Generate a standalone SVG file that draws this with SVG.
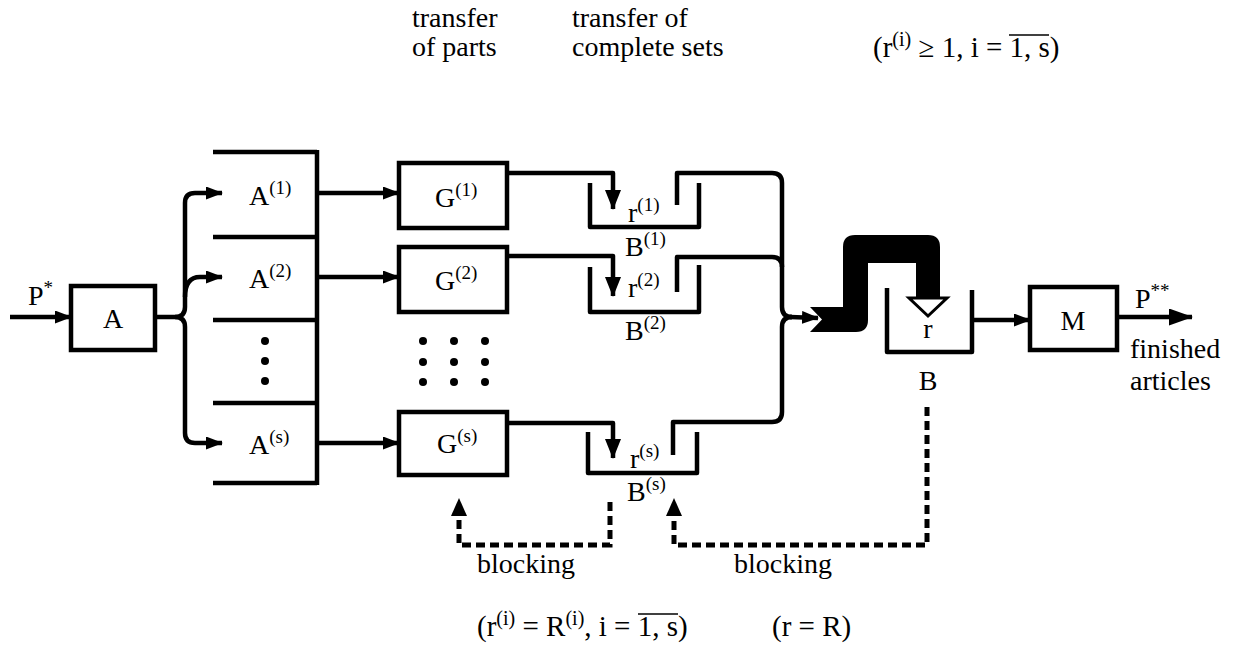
<svg xmlns="http://www.w3.org/2000/svg" width="1238" height="652" viewBox="0 0 1238 652" font-family="'Liberation Serif', 'Times New Roman', Tinos, 'DejaVu Serif', serif">
<style>
  text { font-family: 'Liberation Serif', 'Times New Roman', Tinos, 'DejaVu Serif', serif; font-size: 28px; fill: #000; }
  .sup { font-size: 19px; }
  .f29 { font-size: 29px; }
  .f29 .sup { font-size: 20px; }
  .box { fill: none; stroke: #000; stroke-width: 4.5; }
  .ln { fill: none; stroke: #000; stroke-width: 4.5; stroke-linejoin: round; }
  .dash { fill: none; stroke: #000; stroke-width: 5; stroke-dasharray: 9 5; }
  .ovl { stroke: #000; stroke-width: 1.6; }
</style>
<defs>
  <marker id="ah" markerWidth="17" markerHeight="13" refX="16" refY="6.5" orient="auto" markerUnits="userSpaceOnUse">
    <path d="M0,0 L17,6.5 L0,13 Z" fill="#000"/>
  </marker>
  <marker id="ahd" markerWidth="20" markerHeight="16" refX="19" refY="8" orient="auto" markerUnits="userSpaceOnUse">
    <path d="M0,0 L20,8 L0,16 Z" fill="#000"/>
  </marker>
  <marker id="ahb" markerWidth="24" markerHeight="17" refX="23" refY="8.5" orient="auto" markerUnits="userSpaceOnUse">
    <path d="M0,0 L24,8.5 L0,17 Z" fill="#000"/>
  </marker>
</defs>

<g id="annotations">
  <text x="412" y="27">transfer</text>
  <text x="412" y="56">of parts</text>
  <text x="572" y="27">transfer of</text>
  <text x="572" y="56">complete sets</text>
  <text class="f29" x="873" y="57">(r<tspan class="sup" dy="-11">(i)</tspan><tspan dy="11"> ≥ 1, i = 1, s)</tspan></text>
  <line class="ovl" x1="1009" y1="35" x2="1049" y2="35"/>
  <text x="477" y="573">blocking</text>
  <text x="734" y="573">blocking</text>
  <text class="f29" x="477" y="636">(r<tspan class="sup" dy="-11">(i)</tspan><tspan dy="11"> = R</tspan><tspan class="sup" dy="-11">(i)</tspan><tspan dy="11">, i = 1, s)</tspan></text>
  <line class="ovl" x1="638" y1="614" x2="678" y2="614"/>
  <text class="f29" x="772" y="636">(r = R)</text>
</g>

<g id="connectors">
  <line class="ln" x1="10" y1="317" x2="71" y2="317" marker-end="url(#ah)"/>
  <path class="ln" d="M155,317 H175 Q185,317 185,307 V203 Q185,193 195,193 H222" marker-end="url(#ah)"/>
  <path class="ln" d="M185,297 Q185,277 200,277 H222" marker-end="url(#ah)"/>
  <path class="ln" d="M175,317 Q185,317 185,327 V433 Q185,443 195,443 H222" marker-end="url(#ah)"/>
  <line class="ln" x1="317" y1="193" x2="399" y2="193" marker-end="url(#ah)"/>
  <line class="ln" x1="317" y1="277" x2="399" y2="277" marker-end="url(#ah)"/>
  <line class="ln" x1="317" y1="443" x2="399" y2="443" marker-end="url(#ah)"/>
  <path class="ln" d="M507,173 H613 V209" marker-end="url(#ahd)"/>
  <path class="ln" d="M507,256 H613 V296" marker-end="url(#ahd)"/>
  <path class="ln" d="M507,423 H613 V458" marker-end="url(#ahd)"/>
  <path class="ln" d="M677,205 V173 H772 Q782,173 782,183 V307 Q782,317 792,317"/>
  <path class="ln" d="M677,292 V257 H772 Q782,257 782,267"/>
  <path class="ln" d="M673,455 V422 H772 Q782,422 782,412 V327 Q782,317 792,317"/>
  <line class="ln" x1="790" y1="317" x2="818" y2="318" marker-end="url(#ah)"/>
  <path d="M810,307 L843,307 L843,247 Q843,235 855,235 L928,235 Q940,235 940,247 L940,298 L916,298 L916,263 L868,263 L868,320 Q868,332 856,332 L810,332 L822,319.5 Z" fill="#000"/>
  <path d="M909,298 L947,298 L928,316 Z" fill="#fff" stroke="#000" stroke-width="3"/>
  <line class="ln" x1="972" y1="320" x2="1030" y2="320" marker-end="url(#ah)"/>
  <line class="ln" x1="1117" y1="317" x2="1192" y2="317" marker-end="url(#ahb)"/>
  <path class="dash" d="M610,502 V545 H459 V514"/>
  <path d="M451,516 L467,516 L459,498 Z" fill="#000"/>
  <path class="dash" d="M927,407 V545 H674 V514"/>
  <path d="M666,516 L682,516 L674,498 Z" fill="#000"/>
</g>

<g id="node-A">
  <rect class="box" x="71" y="286" width="84" height="64"/>
  <text x="113" y="328" text-anchor="middle">A</text>
  <text x="28" y="305">P<tspan class="sup" dy="-11">*</tspan></text>
</g>

<g id="node-Astack">
  <path class="ln" d="M213,152 H317 M213,237 H317 M213,320 H317 M213,403 H317 M213,483 H317 M317,150 V485"/>
  <text x="249" y="205">A<tspan class="sup" dy="-11">(1)</tspan></text>
  <text x="249" y="288">A<tspan class="sup" dy="-11">(2)</tspan></text>
  <text x="249" y="454">A<tspan class="sup" dy="-11">(s)</tspan></text>
  <circle cx="265" cy="341" r="4"/>
  <circle cx="265" cy="361" r="4"/>
  <circle cx="265" cy="381" r="4"/>
</g>

<g id="node-G1">
  <rect class="box" x="399" y="163" width="108" height="65"/>
  <text x="435" y="207">G<tspan class="sup" dy="-11">(1)</tspan></text>
</g>
<g id="node-G2">
  <rect class="box" x="399" y="247" width="108" height="65"/>
  <text x="435" y="290">G<tspan class="sup" dy="-11">(2)</tspan></text>
</g>
<g id="node-Gdots">
  <circle cx="423" cy="341" r="4"/><circle cx="454" cy="341" r="4"/><circle cx="485" cy="341" r="4"/>
  <circle cx="423" cy="362" r="4"/><circle cx="454" cy="362" r="4"/><circle cx="485" cy="362" r="4"/>
  <circle cx="423" cy="382" r="4"/><circle cx="454" cy="382" r="4"/><circle cx="485" cy="382" r="4"/>
</g>
<g id="node-Gs">
  <rect class="box" x="399" y="412" width="108" height="63"/>
  <text x="437" y="453">G<tspan class="sup" dy="-11">(s)</tspan></text>
</g>

<g id="node-B1">
  <path class="ln" d="M590,183 V227 H699 V183"/>
  <text x="628" y="222">r<tspan class="sup" dy="-11">(1)</tspan></text>
  <text x="625" y="256">B<tspan class="sup" dy="-11">(1)</tspan></text>
</g>
<g id="node-B2">
  <path class="ln" d="M590,267 V312 H699 V265"/>
  <text x="628" y="297">r<tspan class="sup" dy="-11">(2)</tspan></text>
  <text x="625" y="340">B<tspan class="sup" dy="-11">(2)</tspan></text>
</g>
<g id="node-Bs">
  <path class="ln" d="M588,432 V473 H697 V432"/>
  <text x="630" y="468">r<tspan class="sup" dy="-11">(s)</tspan></text>
  <text x="627" y="501">B<tspan class="sup" dy="-11">(s)</tspan></text>
</g>

<g id="node-B">
  <path class="ln" d="M887,288 V352 H972 V290"/>
  <text x="928" y="338" text-anchor="middle">r</text>
  <text x="928" y="390" text-anchor="middle">B</text>
</g>

<g id="node-M">
  <rect class="box" x="1030" y="287" width="87" height="63"/>
  <text x="1073" y="330" text-anchor="middle">M</text>
  <text x="1135" y="308">P<tspan class="sup" dy="-11">**</tspan></text>
  <text x="1130" y="358">finished</text>
  <text x="1130" y="390">articles</text>
</g>
</svg>
